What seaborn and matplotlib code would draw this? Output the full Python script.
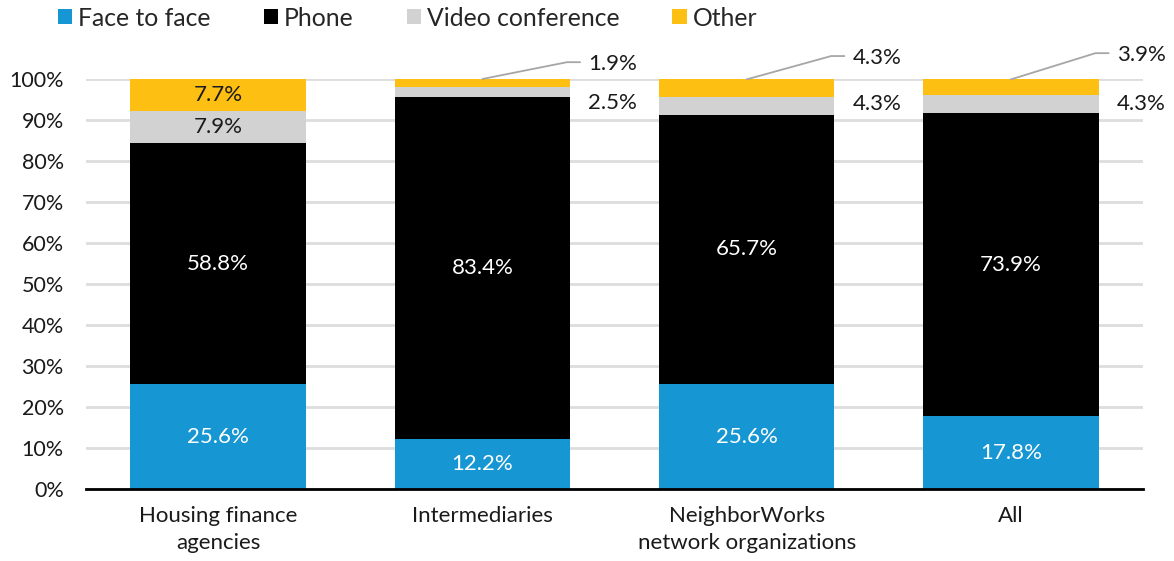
import numpy as np
import pandas as pd
import matplotlib
matplotlib.use("Agg")
import matplotlib.pyplot as plt
from matplotlib.patches import Patch
import seaborn as sns

# Shares of contact mode by organization type (percent)
categories = ["Housing finance\nagencies", "Intermediaries",
              "NeighborWorks\nnetwork organizations", "All"]
face_to_face = [25.6, 12.2, 25.6, 17.8]
phone = [58.8, 83.4, 65.7, 73.9]
video_conference = [7.9, 2.5, 4.3, 4.3]
other = [7.7, 1.9, 4.3, 3.9]

series_names = ["Face to face", "Phone", "Video conference", "Other"]
series_values = [face_to_face, phone, video_conference, other]
series_colors = ["#1696d2", "#000000", "#d2d2d2", "#fdbf11"]
label_colors = ["white", "white", "#1a1a1a", "#1a1a1a"]

sns.set_theme(style="white")
plt.rcParams["font.family"] = ["Lato", "DejaVu Sans"]

fig = plt.figure(figsize=(11.74, 5.61), dpi=100)
ax = fig.add_axes([86 / 1174, 1 - 489 / 561, (1143 - 86) / 1174, (489 - 79) / 561])

# Stacked bars: draw cumulative totals from the top series down
vals = np.array(series_values)
cum = np.cumsum(vals, axis=0)
for k in range(len(series_names) - 1, -1, -1):
    df = pd.DataFrame({"category": categories, "value": cum[k]})
    sns.barplot(data=df, x="category", y="value", color=series_colors[k],
                saturation=1, width=0.665, ax=ax, zorder=2,
                edgecolor="none", linewidth=0)

ax.set_xlim(-0.5, 3.5)
ax.set_ylim(0, 100)
ax.set_yticks(np.arange(0, 101, 10))
ax.set_yticklabels([f"{t}%" for t in range(0, 101, 10)])
ax.set_xlabel("")
ax.set_ylabel("")
ax.yaxis.grid(True, color="#dedddd", linewidth=2)
ax.set_axisbelow(True)
for s in ["top", "right", "left"]:
    ax.spines[s].set_visible(False)
ax.spines["bottom"].set_color("black")
ax.spines["bottom"].set_linewidth(2)
ax.spines["bottom"].set_zorder(5)
ax.tick_params(axis="y", length=0, pad=16, labelsize=15.5, labelcolor="#1a1a1a")
ax.tick_params(axis="x", length=0, pad=12, labelsize=16, labelcolor="#1a1a1a")
for lab in ax.get_xticklabels():
    lab.set_linespacing(1.45)

# Segment labels: inside when the segment is tall enough, otherwise to the right
inside_min = 6.0
other_label_y = [None, 103.6, 105.1, 105.8]
video_label_y = [None, 94.2, 93.8, 94.0]
for i in range(len(categories)):
    for k in range(len(series_names)):
        v = vals[k, i]
        mid = cum[k, i] - v / 2
        txt = f"{v:.1f}%"
        if v >= inside_min:
            ax.text(i, mid, txt, ha="center", va="center", fontsize=16,
                    color=label_colors[k], zorder=4)
        elif k == 2:
            ax.text(i + 0.4, video_label_y[i], txt, ha="left", va="center",
                    fontsize=16, color="#1a1a1a")
        else:
            ty = other_label_y[i]
            ax.plot([i, i + 0.32, i + 0.37], [cum[k, i], ty + 0.5, ty + 0.5],
                    color="#a6a6a6", linewidth=1.3, clip_on=False, zorder=3)
            ax.text(i + 0.4, ty, txt, ha="left", va="center", fontsize=16,
                    color="#1a1a1a")

handles = [Patch(facecolor=c, edgecolor="none") for c in series_colors]
fig.legend(handles, series_names, loc="center left",
           bbox_to_anchor=(58 / 1174, 1 - 18 / 561), ncol=4, frameon=False,
           fontsize=17.8, handlelength=0.57, handleheight=0.57, handletextpad=0.24,
           columnspacing=2.15, borderpad=0, borderaxespad=0)

fig.savefig("out.png", dpi=100)
